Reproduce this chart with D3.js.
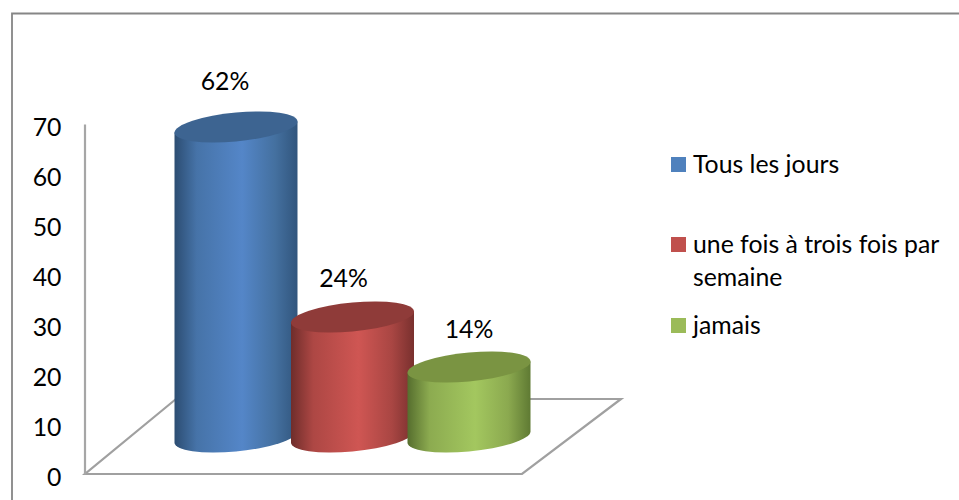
<!DOCTYPE html>
<html><head><meta charset="utf-8">
<script src="https://d3js.org/d3.v7.min.js"></script>
<style>html,body{margin:0;padding:0;background:#fff;overflow:hidden}svg{display:block}text{font-family:Lato,"Open Sans",sans-serif;fill:#000}</style>
</head><body><div id="c"></div>
<script>
const categories = ["Tous les jours", "une fois à trois fois par semaine", "jamais"];
const values = [62, 24, 14];
const valueLabels = ["62%", "24%", "14%"];
const tickValues = [0, 10, 20, 30, 40, 50, 60, 70];
const legendLines = [["Tous les jours"], ["une fois à trois fois par", "semaine"], ["jamais"]];
const sideColors = [
  ["#2c4d72", "#4673a8", "#5486c8", "#44709f", "#31557d"],
  ["#6f2d2b", "#ad4744", "#cf5653", "#a94643", "#79302e"],
  ["#566e2e", "#8cab50", "#a3c75f", "#8ba94f", "#5f7a33"]
];
const topColors = ["#3d6491", "#8f3b39", "#7a9442"];
const legendColors = ["#4f81bd", "#c0504d", "#9bbb59"];

const W = 959, H = 500, FS = 24.8;
const svg = d3.select("#c").append("svg").attr("width", W).attr("height", H);
const defs = svg.append("defs");

const y = d3.scaleLinear().domain([0, 70]).range([474, 124]);
const x = d3.scalePoint().domain(categories).range([236, 469]);

// outer frame
svg.append("path").attr("d", `M12,${H}V13.5H${W}`).attr("fill", "none").attr("stroke", "#868686").attr("stroke-width", 1.8);

// floor
const floorBack = 399;
const floor = d3.path();
floor.moveTo(85, y(0)); floor.lineTo(522, y(0)); floor.lineTo(621, floorBack); floor.lineTo(176, floorBack); floor.closePath();
svg.append("path").attr("d", floor.toString()).attr("fill", "#fff").attr("stroke", "#a0a0a0").attr("stroke-width", 2.2);

// axis
const axis = d3.axisLeft(y).tickValues(tickValues).tickSize(0).tickPadding(23);
const ag = svg.append("g").attr("transform", "translate(84.5,0)").call(axis);
ag.select(".domain").attr("stroke", "#a6a6a6").attr("stroke-width", 2.2);
ag.selectAll("text").attr("font-size", FS).attr("dy", "0.46em").style("font-family", "Lato,sans-serif");

// cylinders
const rx = 61.5, ry = 14.4, baseShift = 37, skew = -5.2;
const offs = [0, 0.18, 0.55, 0.82, 1];
categories.forEach((c, i) => {
  const gid = "g" + i;
  const grad = defs.append("linearGradient").attr("id", gid).attr("x1", 0).attr("x2", 1).attr("y1", 0).attr("y2", 0);
  offs.forEach((o, j) => grad.append("stop").attr("offset", o).attr("stop-color", sideColors[i][j]));
  const yb = y(0) - baseShift, yt = y(values[i]) - baseShift;
  const g = svg.append("g").attr("transform", `translate(${x(c)},0) skewY(${skew})`);
  g.append("path")
    .attr("d", `M${-rx},${yt}L${-rx},${yb}A${rx},${ry} 0 0 0 ${rx},${yb}L${rx},${yt}Z`)
    .attr("fill", `url(#${gid})`);
  g.append("ellipse").attr("cx", 0).attr("cy", yt).attr("rx", rx).attr("ry", ry).attr("fill", topColors[i]);
});

// value labels
const labelDx = [-11, -9, 0], labelDy = [-37, -30, -29];
categories.forEach((c, i) => {
  svg.append("text").attr("x", x(c) + labelDx[i]).attr("y", y(values[i]) - baseShift + labelDy[i])
    .attr("text-anchor", "middle").attr("font-size", FS).text(valueLabels[i]);
});

// legend
const legendY = [164.5, 244.5, 325.5];
categories.forEach((c, i) => {
  svg.append("rect").attr("x", 671).attr("y", legendY[i] - 7.5).attr("width", 15).attr("height", 15).attr("fill", legendColors[i]);
  legendLines[i].forEach((t, k) => {
    svg.append("text").attr("x", 693).attr("y", legendY[i] + 8.5 + k * 32.5).attr("font-size", FS).text(t);
  });
});
</script></body></html>
